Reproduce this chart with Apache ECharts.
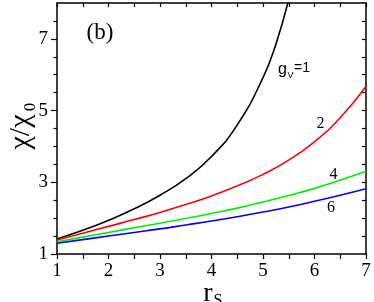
<!DOCTYPE html>
<html>
<head>
<meta charset="utf-8">
<script src="https://cdn.jsdelivr.net/npm/echarts@6/dist/echarts.min.js"></script>
<style>html,body{margin:0;padding:0;background:#fff;}#c{width:374px;height:302px;}</style>
</head>
<body>
<div id="c"></div>
<script>
// r_s values (x) for curves
const rs = [1, 1.5, 2, 2.5, 3, 3.5, 4, 4.5, 5, 5.5, 6, 6.5, 7];
const rsBlack = [1, 1.5, 2, 2.5, 3, 3.5, 4, 4.5, 5, 5.25, 5.5];
// chi/chi0 for g_v = 1, 2, 4, 6
const chiG1 = [1.42, 1.66, 1.94, 2.26, 2.64, 3.10, 3.72, 4.60, 5.92, 6.85, 8.1];
const chiG2 = [1.39, 1.58, 1.77, 1.96, 2.16, 2.38, 2.62, 2.90, 3.22, 3.62, 4.13, 4.80, 5.67];
const chiG4 = [1.34, 1.47, 1.60, 1.73, 1.86, 1.99, 2.13, 2.28, 2.45, 2.63, 2.83, 3.06, 3.31];
const chiG6 = [1.30, 1.40, 1.50, 1.60, 1.70, 1.81, 1.92, 2.04, 2.17, 2.31, 2.47, 2.64, 2.82];
// axis ticks
const yMajorTicks = [1, 3, 5, 7];
const yMinorTicks = [1.5, 2, 2.5, 3.5, 4, 4.5, 5.5, 6, 6.5, 7.5];
const yAllTicks = [1.5, 2, 2.5, 3, 3.5, 4, 4.5, 5, 5.5, 6, 6.5, 7, 7.5];
const curveLabels = ['2', '4', '6'];

const zip = (xs, ys) => xs.map((x, i) => [x, ys[i]]);
const serif = 'Liberation Serif';
const black = '#000';

const chart = echarts.init(document.getElementById('c'), null, {renderer: 'canvas'});
const baseX = {
  type: 'value', min: 1, max: 7, interval: 1,
  axisLine: {show: true, lineStyle: {color: black, width: 1.5}},
  splitLine: {show: false}
};
const baseY = {
  type: 'value', min: 1, max: 8,
  axisLine: {show: true, lineStyle: {color: black, width: 1.5}},
  splitLine: {show: false}
};
const lineSeries = (name, xs, ys, color) => ({
  type: 'line', name, data: zip(xs, ys), showSymbol: false, smooth: true,
  xAxisIndex: 0, yAxisIndex: 0, clip: true,
  lineStyle: {color, width: 1.6}, silent: true, animation: false
});

chart.setOption({
  animation: false,
  grid: {left: 57, right: 8, top: 3, bottom: 48},
  xAxis: [
    Object.assign({}, baseX, {
      position: 'bottom',
      axisTick: {show: true, inside: false, length: 5, lineStyle: {color: black, width: 1.2}},
      minorTick: {show: true, splitNumber: 2, length: 5, lineStyle: {color: black, width: 1.2}},
      axisLabel: {show: true, fontFamily: serif, fontSize: 19, color: black, margin: 8}
    }),
    Object.assign({}, baseX, {
      position: 'top',
      axisTick: {show: true, inside: true, length: 4, lineStyle: {color: black, width: 1.2}},
      minorTick: {show: true, splitNumber: 2, length: 4, lineStyle: {color: black, width: 1.2}},
      axisLabel: {show: false}
    })
  ],
  yAxis: [
    Object.assign({}, baseY, {
      position: 'left',
      axisTick: {show: true, inside: false, length: 6, customValues: yMajorTicks, lineStyle: {color: black, width: 1.2}},
      axisLabel: {show: true, customValues: yMajorTicks, fontFamily: serif, fontSize: 19, color: black, margin: 9}
    }),
    Object.assign({}, baseY, {
      position: 'left',
      axisLine: {show: false},
      axisTick: {show: true, inside: false, length: 3.5, customValues: yMinorTicks, lineStyle: {color: black, width: 1.2}},
      axisLabel: {show: false}
    }),
    Object.assign({}, baseY, {
      position: 'right',
      axisTick: {show: true, inside: true, length: 4, customValues: yAllTicks, lineStyle: {color: black, width: 1.2}},
      axisLabel: {show: false}
    })
  ],
  series: [
    lineSeries('g1', rsBlack, chiG1, '#000000'),
    lineSeries('g2', rs, chiG2, '#ff0000'),
    lineSeries('g4', rs, chiG4, '#00ee00'),
    lineSeries('g6', rs, chiG6, '#0000ff')
  ],
  graphic: [
    {type: 'text', x: 100, y: 33, style: {text: '(b)', font: '23px "Liberation Serif"', fill: black, align: 'center', verticalAlign: 'middle'}},
    {type: 'text', x: 278, y: 70, style: {text: 'g', font: '16px "Liberation Sans"', fill: black, align: 'left', verticalAlign: 'middle'}},
    {type: 'text', x: 287.5, y: 76, style: {text: 'V', font: '9px "Liberation Sans"', fill: black, align: 'left', verticalAlign: 'middle'}},
    {type: 'text', x: 294, y: 68, style: {text: '=1', font: '14px "Liberation Sans"', fill: black, align: 'left', verticalAlign: 'middle'}},
    {type: 'text', x: 320.5, y: 124, style: {text: curveLabels[0], font: '16px "Liberation Serif"', fill: black, align: 'center', verticalAlign: 'middle'}},
    {type: 'text', x: 333.5, y: 174.5, style: {text: curveLabels[1], font: '16px "Liberation Serif"', fill: black, align: 'center', verticalAlign: 'middle'}},
    {type: 'text', x: 331, y: 208, style: {text: curveLabels[2], font: '16px "Liberation Serif"', fill: black, align: 'center', verticalAlign: 'middle'}},
    {type: 'text', x: 21, y: 132, rotation: Math.PI / 2,
      style: {text: 'χ/χ', font: '30px "Liberation Serif"', fill: black, align: 'center', verticalAlign: 'middle'}},
    {type: 'text', x: 31, y: 107, rotation: Math.PI / 2,
      style: {text: '0', font: '17px "Liberation Serif"', fill: black, align: 'center', verticalAlign: 'middle'}},
    {type: 'text', x: 208, y: 294,
      style: {text: 'r', font: '28px "Liberation Serif"', fill: black, align: 'center', verticalAlign: 'middle'}},
    {type: 'text', x: 218, y: 301,
      style: {text: 'S', font: '16px "Liberation Serif"', fill: black, align: 'center', verticalAlign: 'middle'}}
  ]
});
</script>
</body>
</html>
